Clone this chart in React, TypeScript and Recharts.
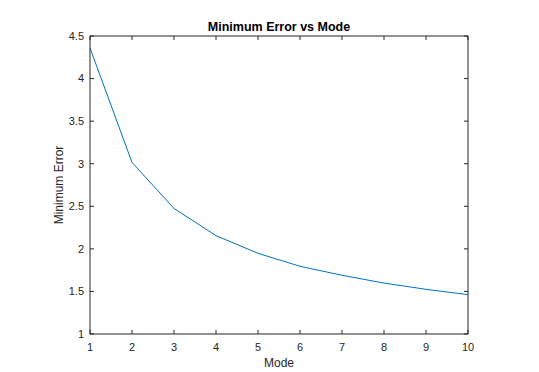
import React from "react";
import { LineChart, Line, XAxis, YAxis } from "recharts";

const modes = [1, 2, 3, 4, 5, 6, 7, 8, 9, 10];
const minError = [4.36, 3.015, 2.475, 2.155, 1.948, 1.795, 1.69, 1.598, 1.525, 1.462];
const xTicks = [1, 2, 3, 4, 5, 6, 7, 8, 9, 10];
const yTicks = [1, 1.5, 2, 2.5, 3, 3.5, 4, 4.5];
const title = "Minimum Error vs Mode";
const xLabel = "Mode";
const yLabel = "Minimum Error";

const data = modes.map((m, i) => ({ mode: m, err: minError[i] }));

const W = 539;
const H = 372;
const AX = "#262626";
const FONT = "'Liberation Sans', Arial, Helvetica, sans-serif";
const TL = 4;
const XM = 9;
const YM = 6;

const BottomTick = (props: any) => {
  const { x, y, payload } = props;
  const ay = y - XM;
  return (
    <g>
      <line x1={x} y1={ay} x2={x} y2={ay - TL} stroke={AX} strokeWidth={1} />
      <text x={x} y={y} dy="0.71em" textAnchor="middle" fontSize={11} fill={AX} fontFamily={FONT}>
        {payload.value}
      </text>
    </g>
  );
};

const LeftTick = (props: any) => {
  const { x, y, payload } = props;
  const ax = x + YM;
  return (
    <g>
      <line x1={ax} y1={y} x2={ax + TL} y2={y} stroke={AX} strokeWidth={1} />
      <text x={x} y={y} dy="0.355em" textAnchor="end" fontSize={11} fill={AX} fontFamily={FONT}>
        {payload.value}
      </text>
    </g>
  );
};

const TopTick = (props: any) => {
  const { x, y } = props;
  const ay = y + XM;
  return <line x1={x} y1={ay} x2={x} y2={ay + TL} stroke={AX} strokeWidth={1} />;
};

const RightTick = (props: any) => {
  const { x, y } = props;
  const ax = x - YM;
  return <line x1={ax} y1={y} x2={ax - TL} y2={y} stroke={AX} strokeWidth={1} />;
};

export default function App() {
  return (
    <div style={{ position: "absolute", left: 0, top: 0, width: W, height: H, background: "#fff", fontFamily: FONT }}>
      <LineChart width={W} height={H} data={data} margin={{ top: 35, right: 70, left: 0, bottom: 0 }}>
        <XAxis
          dataKey="mode"
          type="number"
          domain={[1, 10]}
          ticks={xTicks}
          height={38}
          stroke={AX}
          tickLine={false}
          tickSize={0}
          tickMargin={XM}
          tick={<BottomTick />}
          interval={0}
        />
        <XAxis
          xAxisId="top"
          orientation="top"
          dataKey="mode"
          type="number"
          domain={[1, 10]}
          ticks={xTicks}
          height={1}
          stroke={AX}
          tickLine={false}
          tickSize={0}
          tickMargin={XM}
          tick={<TopTick />}
          interval={0}
        />
        <YAxis
          type="number"
          domain={[1, 4.5]}
          ticks={yTicks}
          width={90}
          stroke={AX}
          tickLine={false}
          tickSize={0}
          tickMargin={YM}
          tick={<LeftTick />}
          interval={0}
        />
        <YAxis
          yAxisId="right"
          orientation="right"
          type="number"
          domain={[1, 4.5]}
          ticks={yTicks}
          width={1}
          stroke={AX}
          tickLine={false}
          tickSize={0}
          tickMargin={YM}
          tick={<RightTick />}
          interval={0}
        />
        <Line
          dataKey="err"
          stroke="#0072BD"
          strokeWidth={1}
          dot={false}
          type="linear"
          isAnimationActive={false}
        />
        <Line
          xAxisId="top"
          yAxisId="right"
          dataKey="err"
          stroke="none"
          strokeWidth={0}
          dot={false}
          activeDot={false}
          legendType="none"
          isAnimationActive={false}
        />
      </LineChart>
      <svg width={W} height={H} style={{ position: "absolute", left: 0, top: 0, pointerEvents: "none" }}>
        <text x={279} y={31} textAnchor="middle" fontSize={12.5} fontWeight="bold" fill="#000" fontFamily={FONT}>
          {title}
        </text>
        <text x={279} y={367} textAnchor="middle" fontSize={12} fill={AX} fontFamily={FONT}>
          {xLabel}
        </text>
        <text x={0} y={0} textAnchor="middle" fontSize={12} fill={AX} fontFamily={FONT} transform="translate(63,185) rotate(-90)">
          {yLabel}
        </text>
      </svg>
    </div>
  );
}
